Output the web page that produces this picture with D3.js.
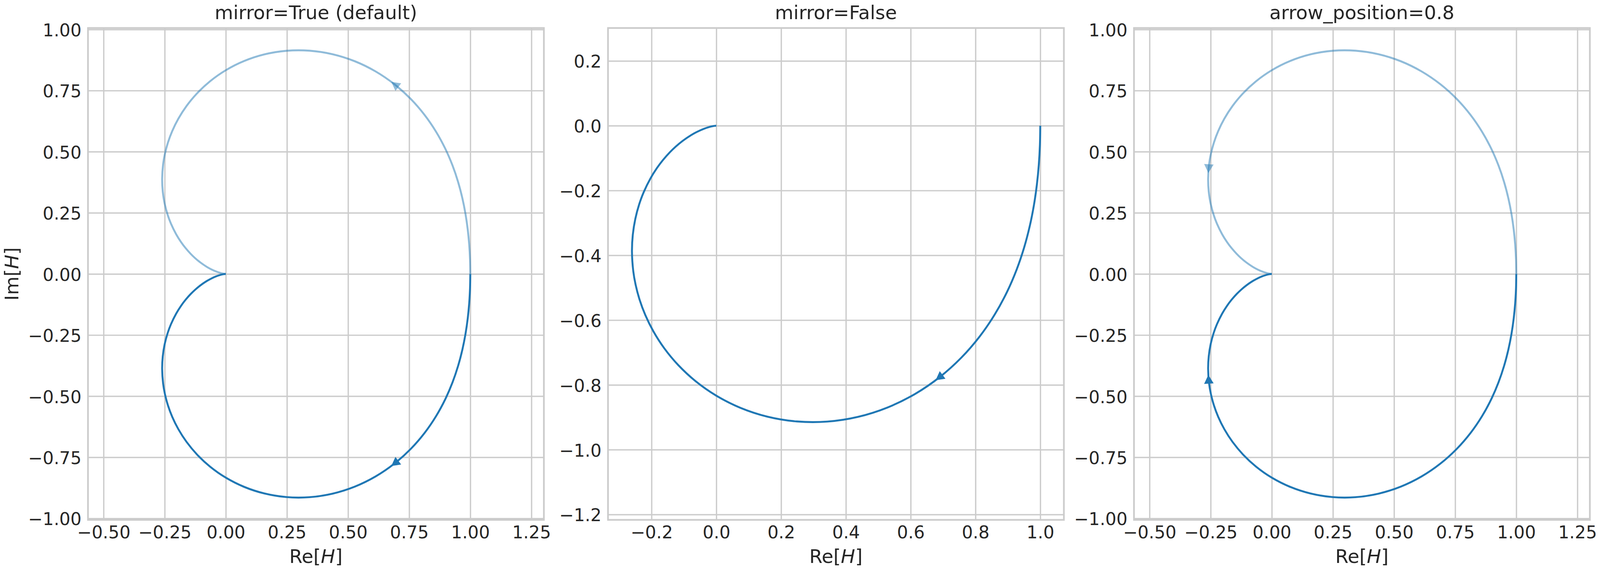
<!DOCTYPE html>
<html><head><meta charset="utf-8">
<script src="https://cdn.jsdelivr.net/npm/d3@7"></script>
<style>html,body{margin:0;padding:0;background:#fff;overflow:hidden;width:100%;height:100%}svg{display:block;width:100vw;height:100vh}</style>
</head><body>
<script>
// ---- data (positive-frequency branch of H) ----
const reH = [1, 0.99889, 0.99548, 0.98947, 0.98039, 0.96758, 0.95020, 0.92719, 0.89744, 0.85974,
  0.81301, 0.75642, 0.68966, 0.61312, 0.52811, 0.43689, 0.34247, 0.24834, 0.15800, 0.07448,
  0, -0.06414, -0.11755, -0.16058, -0.19407, -0.21918, -0.23714, -0.24917, -0.25641, -0.26041,
  -0.25786, -0.25009, -0.23806, -0.22437, -0.20325, -0.18315, -0.16486, -0.14359, -0.12564, -0.10395,
  -0.07802, -0.06047, -0.03922, -0.02341, -0.01228, -0.00509, -0.00160, 0];
const imH = [0, -0.06008, -0.12066, -0.18220, -0.24510, -0.30963, -0.37590, -0.44378, -0.51282, -0.58214,
  -0.65041, -0.71575, -0.77586, -0.82811, -0.86984, -0.89873, -0.91324, -0.91283, -0.89813, -0.87082,
  -0.83333, -0.78843, -0.73887, -0.68711, -0.63514, -0.58447, -0.53614, -0.49077, -0.44872, -0.38852,
  -0.33671, -0.28748, -0.24238, -0.20561, -0.16260, -0.13044, -0.10607, -0.08205, -0.06472, -0.04678,
  -0.02913, -0.01935, -0.00980, -0.00443, -0.00166, -0.00044, -0.00008, 0];

const panelTitles = ["mirror=True (default)", "mirror=False", "arrow_position=0.8"];
const panelMirror = [true, false, true];
const panelArrowPos = [0.3333, 0.3333, 0.8];

const xTicksWide = [-0.50, -0.25, 0.00, 0.25, 0.50, 0.75, 1.00, 1.25];
const yTicksWide = [-1.00, -0.75, -0.50, -0.25, 0.00, 0.25, 0.50, 0.75, 1.00];
const xTicksMid = [-0.2, 0.0, 0.2, 0.4, 0.6, 0.8, 1.0];
const yTicksMid = [-1.2, -1.0, -0.8, -0.6, -0.4, -0.2, 0.0, 0.2];

// ---- layout (not data) ----
const W = 4200, H = 1500;
const axTop = 73.5, axH = 1291, axW = 1196.7;
const axLefts = [231, 1596, 2976.7];
const xDomains = [[-0.5637, 1.3010], [-0.3344, 1.0729], [-0.5637, 1.3010]];
const yDomains = [[-1.006, 1.006], [-1.2166, 0.3016], [-1.006, 1.006]];
const xTickSets = [xTicksWide, xTicksMid, xTicksWide];
const yTickSets = [yTicksWide, yTicksMid, yTicksWide];
const fmts = [d3.format(".2f"), d3.format(".1f"), d3.format(".2f")];

const FONT = "'DejaVu Sans', sans-serif";
const TXT = "#262626", GRID = "#cccccc";
const C0 = "#1f77b4";

const svg = d3.select("body").append("svg")
  .attr("viewBox", `0 0 ${W} ${H}`)
  .attr("preserveAspectRatio", "xMidYMin meet")
  .style("font-family", FONT);
svg.append("rect").attr("width", W).attr("height", H).attr("fill", "#fff");

const pts = reH.map((r, i) => [r, imH[i]]);
const ptsMirror = reH.map((r, i) => [r, -imH[i]]);

function addArrow(g, pathNode, frac, color, opacity) {
  const L = pathNode.getTotalLength();
  const s = frac * L;
  const p = pathNode.getPointAtLength(s);
  const q = pathNode.getPointAtLength(Math.max(0, s - 2));
  let ux = p.x - q.x, uy = p.y - q.y;
  const n = Math.hypot(ux, uy) || 1; ux /= n; uy /= n;
  const len = 23, hw = 12.5;
  const bx = p.x - ux * len, by = p.y - uy * len;
  const pts3 = [[p.x, p.y], [bx - uy * hw, by + ux * hw], [bx + uy * hw, by - ux * hw]];
  g.append("path").attr("d", "M" + pts3.map(d => d.join(",")).join("L") + "Z")
    .attr("fill", color).attr("fill-opacity", opacity).attr("stroke", "none");
}

panelTitles.forEach((title, k) => {
  const left = axLefts[k];
  const x = d3.scaleLinear().domain(xDomains[k]).range([0, axW]);
  const y = d3.scaleLinear().domain(yDomains[k]).range([axH, 0]);
  const g = svg.append("g").attr("transform", `translate(${left},${axTop})`);

  // grid
  const gx = g.append("g").attr("transform", `translate(0,${axH})`)
    .call(d3.axisBottom(x).tickValues(xTickSets[k]).tickSize(-axH).tickFormat(""));
  const gy = g.append("g")
    .call(d3.axisLeft(y).tickValues(yTickSets[k]).tickSize(-axW).tickFormat(""));
  [gx, gy].forEach(a => {
    a.select(".domain").remove();
    a.selectAll("line").attr("stroke", GRID).attr("stroke-width", 3.5);
  });

  // tick labels
  const lx = g.append("g").attr("transform", `translate(0,${axH})`)
    .call(d3.axisBottom(x).tickValues(xTickSets[k]).tickSize(0).tickPadding(16).tickFormat(fmts[k]));
  const ly = g.append("g")
    .call(d3.axisLeft(y).tickValues(yTickSets[k]).tickSize(0).tickPadding(17).tickFormat(fmts[k]));
  [lx, ly].forEach(a => {
    a.select(".domain").remove();
    a.selectAll("text").attr("fill", TXT).style("font-size", "45.8px").style("font-family", FONT);
  });
  ly.selectAll("text").attr("dy", "0.38em");

  const line = d3.line().x(d => x(d[0])).y(d => y(d[1])).curve(d3.curveCatmullRom.alpha(0.5));

  // curves
  if (panelMirror[k]) {
    const pm = g.append("path").datum(ptsMirror).attr("d", line)
      .attr("fill", "none").attr("stroke", C0).attr("stroke-opacity", 0.5)
      .attr("stroke-width", 5).attr("stroke-linejoin", "round");
    addArrow(g, pm.node(), panelArrowPos[k], C0, 0.5);
  }
  const pp = g.append("path").datum(pts).attr("d", line)
    .attr("fill", "none").attr("stroke", C0)
    .attr("stroke-width", 5).attr("stroke-linejoin", "round");
  addArrow(g, pp.node(), panelArrowPos[k], C0, 1);

  // spines
  g.append("rect").attr("x", 0).attr("y", 0).attr("width", axW).attr("height", axH)
    .attr("fill", "none").attr("stroke", GRID).attr("stroke-width", 4.5);

  // title
  svg.append("text").attr("x", left + axW / 2).attr("y", 50)
    .attr("text-anchor", "middle").attr("fill", TXT).style("font-size", "50px")
    .text(title);

  // x label
  const xl = svg.append("text").attr("x", left + axW / 2).attr("y", 1478)
    .attr("text-anchor", "middle").attr("fill", TXT).style("font-size", "50px");
  xl.append("tspan").text("Re[");
  xl.append("tspan").attr("font-style", "italic").text("H");
  xl.append("tspan").text("]");

  if (k === 0) {
    const yl = svg.append("text").attr("transform", `translate(48,${axTop + axH / 2}) rotate(-90)`)
      .attr("text-anchor", "middle").attr("fill", TXT).style("font-size", "50px");
    yl.append("tspan").text("Im[");
    yl.append("tspan").attr("font-style", "italic").text("H");
    yl.append("tspan").text("]");
  }
});
</script>
</body></html>
